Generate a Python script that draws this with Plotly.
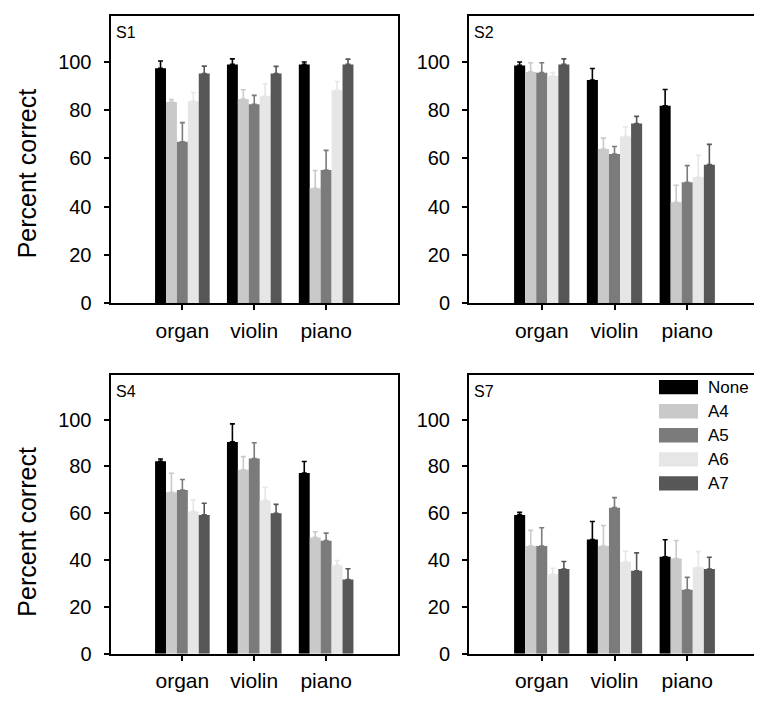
import plotly.graph_objects as go

categories = ["organ", "violin", "piano"]
series_names = ["None", "A4", "A5", "A6", "A7"]
series_colors = ["#000000", "#c9c9c9", "#7b7b7b", "#e6e6e6", "#575757"]
panel_names = ["S1", "S2", "S4", "S7"]

# values[panel][series] -> [organ, violin, piano]
s1_values = {
    "None": [97.3, 98.9, 98.9],
    "A4": [83.3, 84.6, 47.6],
    "A5": [66.9, 82.4, 55.2],
    "A6": [83.7, 85.7, 88.2],
    "A7": [95.1, 95.1, 98.9],
}
s1_errors = {
    "None": [3.0, 2.3, 1.0],
    "A4": [1.1, 3.8, 7.4],
    "A5": [7.9, 3.7, 8.1],
    "A6": [3.6, 5.2, 3.6],
    "A7": [3.1, 3.0, 2.2],
}
s2_values = {
    "None": [98.5, 92.4, 81.8],
    "A4": [95.8, 63.9, 41.8],
    "A5": [95.5, 61.8, 50.1],
    "A6": [94.1, 69.1, 52.2],
    "A7": [98.9, 74.4, 57.4],
}
s2_errors = {
    "None": [1.4, 4.8, 6.7],
    "A4": [3.8, 4.5, 7.1],
    "A5": [4.1, 3.1, 6.9],
    "A6": [1.4, 3.9, 9.1],
    "A7": [2.3, 3.0, 8.4],
}
s4_values = {
    "None": [82.2, 90.5, 77.2],
    "A4": [69.0, 78.6, 49.7],
    "A5": [69.9, 83.4, 48.3],
    "A6": [60.8, 65.5, 37.8],
    "A7": [59.3, 60.0, 31.7],
}
s4_errors = {
    "None": [1.0, 7.7, 4.9],
    "A4": [8.1, 5.6, 2.4],
    "A5": [4.5, 6.7, 3.2],
    "A6": [5.0, 5.6, 2.0],
    "A7": [5.0, 3.8, 4.6],
}
s7_values = {
    "None": [59.3, 48.8, 41.4],
    "A4": [46.0, 46.0, 40.7],
    "A5": [46.0, 62.4, 27.3],
    "A6": [34.0, 39.3, 36.9],
    "A7": [36.2, 35.4, 36.2],
}
s7_errors = {
    "None": [1.1, 7.7, 7.3],
    "A4": [6.7, 8.8, 7.7],
    "A5": [7.8, 4.3, 5.3],
    "A6": [2.5, 4.5, 6.7],
    "A7": [3.2, 7.7, 5.0],
}
y_tick_values = [0, 20, 40, 60, 80, 100]
y_title = "Percent correct"

panels = [(s1_values, s1_errors), (s2_values, s2_errors),
          (s4_values, s4_errors), (s7_values, s7_errors)]

W, H = 762, 703
FONT = "Liberation Sans, Arial, sans-serif"

def px_x(p):
    return p / W

def px_y(p):
    return 1 - p / H

x_domains = [[px_x(102.5), px_x(390)], [px_x(461), px_x(752)]]
y_domains = [[px_y(300), px_y(8)], [px_y(656), px_y(373)]]

fig = go.Figure()
for i, (vals, errs) in enumerate(panels):
    ax = "" if i == 0 else str(i + 1)
    for name, color in zip(series_names, series_colors):
        fig.add_trace(go.Bar(
            x=categories, y=vals[name], name=name,
            marker=dict(color=color, line=dict(width=0)),
            error_y=dict(type="data", array=errs[name], symmetric=False,
                         arrayminus=[0] * len(categories),
                         color=color, thickness=1.6, width=2.5),
            xaxis="x" + ax, yaxis="y" + ax, showlegend=False,
        ))

layout = dict(
    width=W, height=H, margin=dict(l=0, r=0, t=0, b=0),
    paper_bgcolor="white", plot_bgcolor="white",
    barmode="group", bargap=0.24, bargroupgap=0,
    font=dict(family=FONT, color="black"),
    showlegend=False,
)
for i in range(4):
    ax = "" if i == 0 else str(i + 1)
    col, row = i % 2, i // 2
    layout["xaxis" + ax] = dict(
        domain=x_domains[col], anchor="y" + ax, type="category",
        categoryorder="array", categoryarray=categories,
        range=[-1, 3], showline=True, linecolor="black", linewidth=2,
        mirror=True, ticks="outside", ticklen=5, tickwidth=1.5,
        tickcolor="black", showgrid=False, zeroline=False,
        tickfont=dict(size=21, family=FONT), ticklabelstandoff=2,
    )
    layout["yaxis" + ax] = dict(
        domain=y_domains[row], anchor="x" + ax, range=[0, 119],
        tickvals=y_tick_values, showline=True, linecolor="black",
        linewidth=2, mirror=True, ticks="outside", ticklen=5,
        tickwidth=1.5, tickcolor="black", showgrid=False, zeroline=False,
        tickfont=dict(size=20, family=FONT), ticklabelstandoff=8,
    )
fig.update_layout(**layout)

annotations = []
for i, pname in enumerate(panel_names):
    ax = "" if i == 0 else str(i + 1)
    annotations.append(dict(
        text=pname, xref=("x" + ax) + " domain", yref=("y" + ax) + " domain",
        x=0, y=1, xanchor="left", yanchor="top", xshift=3, yshift=-6,
        showarrow=False, font=dict(size=16, family=FONT, color="black"),
    ))
for yc in [168, 532]:
    annotations.append(dict(
        text=y_title, xref="paper", yref="paper", x=px_x(19), y=px_y(yc),
        xanchor="center", yanchor="middle", textangle=-90, showarrow=False,
        font=dict(size=25, family=FONT, color="black"),
    ))

# legend (inside S7 panel)
shapes = []
leg_x0, leg_x1 = 651, 690
leg_top, row_h, sw_h = 378, 24.4, 14.5
for k, (name, color) in enumerate(zip(series_names, series_colors)):
    y0 = leg_top + k * row_h
    shapes.append(dict(type="rect", xref="paper", yref="paper",
                       x0=px_x(leg_x0), x1=px_x(leg_x1),
                       y0=px_y(y0 + sw_h), y1=px_y(y0),
                       fillcolor=color, line=dict(width=0)))
    annotations.append(dict(
        text=name, xref="paper", yref="paper", x=px_x(698), y=px_y(y0 + sw_h / 2),
        xanchor="left", yanchor="middle", showarrow=False,
        font=dict(size=17, family=FONT, color="black"),
    ))

fig.update_layout(annotations=annotations, shapes=shapes)
fig.write_html("out.html")
